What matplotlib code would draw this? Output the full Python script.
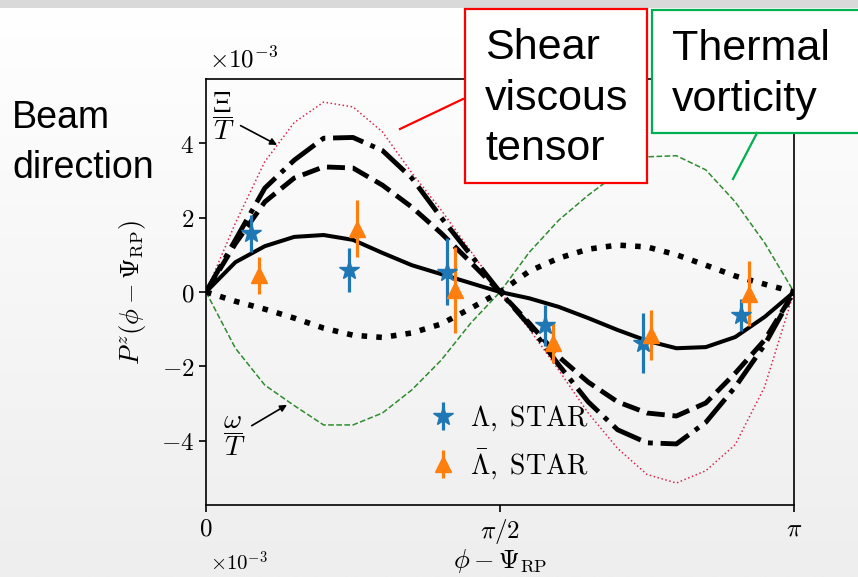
import numpy as np
import matplotlib
matplotlib.use("Agg")
import matplotlib.pyplot as plt
from matplotlib.patches import Rectangle
from matplotlib.colors import LinearSegmentedColormap

plt.rcParams["mathtext.fontset"] = "cm"

# ── data (P^z in units of 1e-3) ─────────────────────────────────────────
PHI = np.linspace(0, np.pi, 21)

shear_xi = [0, 1.85, 3.5, 4.55, 5.1, 4.97, 4.3, 3.2, 2.2, 1.1, 0,
            -1.0, -2.1, -3.25, -4.2, -4.9, -5.13, -4.8, -4.1, -2.55, 0]
dashdot = [0, 1.4, 2.79, 3.54, 4.13, 4.15, 3.8, 3.06, 2.0, 1.0, 0,
           -0.9, -1.96, -2.95, -3.7, -4.05, -4.08, -3.5, -2.55, -1.42, 0]
dashed = [0, 1.3, 2.42, 3.06, 3.36, 3.33, 2.87, 2.28, 1.58, 0.8, 0,
          -0.84, -1.74, -2.42, -2.95, -3.25, -3.33, -2.98, -2.18, -1.29, 0]
solid = [0, 0.8, 1.23, 1.48, 1.53, 1.4, 1.05, 0.72, 0.48, 0.24, 0,
         -0.17, -0.4, -0.7, -1.02, -1.31, -1.51, -1.48, -1.21, -0.67, 0]
dotted = [0, -0.25, -0.46, -0.7, -0.97, -1.16, -1.22, -1.1, -0.86, -0.44, 0,
          0.56, 0.91, 1.15, 1.26, 1.21, 1.0, 0.72, 0.43, 0.21, 0]
vorticity = [0, -1.51, -2.5, -3.05, -3.57, -3.57, -3.25, -2.63, -1.83, -0.84, 0,
             1.07, 1.93, 2.6, 3.19, 3.63, 3.66, 3.28, 2.42, 1.32, 0]

STAR_PHI = np.pi * np.array([1, 3, 5, 7, 9, 11]) / 12
lam = [1.58, 0.59, 0.54, -0.89, -1.37, -0.62]
lam_err = [0.5, 0.6, 0.9, 0.55, 0.8, 0.42]
alam = [0.45, 1.7, 0.05, -1.37, -1.15, -0.05]
alam_err = [0.5, 0.77, 1.15, 0.55, 0.67, 0.87]

W, H = 858, 577
fig = plt.figure(figsize=(W / 100, H / 100), dpi=100)

# background: light gradient like the slide
bg = fig.add_axes([0, 0, 1, 1], zorder=-10)
grad = LinearSegmentedColormap.from_list("bg", ["#ffffff", "#eeeeee"])
bg.imshow(np.linspace(0, 1, 256).reshape(-1, 1), aspect="auto", cmap=grad,
          extent=[0, 1, 0, 1], origin="upper")
bg.axis("off")

ax = fig.add_axes([206 / W, 1 - 505 / H, 588 / W, 426 / H])
ax.set_facecolor("none")

ax.plot(PHI, shear_xi, ":", color="#d6284e", lw=1.1)
ax.plot(PHI, vorticity, "--", color="#2e8b2e", lw=1.1)
ax.plot(PHI, dashdot, "-.", color="k", lw=3.5)
ax.plot(PHI, dashed, "--", color="k", lw=3.5)
ax.plot(PHI, solid, "-", color="k", lw=2.9)
ax.plot(PHI, dotted, ":", color="k", lw=4.0)

ax.errorbar(STAR_PHI - 0.02, lam, yerr=lam_err, fmt="*", color="#1f77b4",
            ms=15, elinewidth=2.3, label=r"$\Lambda,\ \mathrm{STAR}$", zorder=5)
ax.errorbar(STAR_PHI + 0.02, alam, yerr=alam_err, fmt="^", color="#ff7f0e",
            ms=12, elinewidth=2.3, label=r"$\bar{\Lambda},\ \mathrm{STAR}$", zorder=5)

ax.set_xlim(0, np.pi)
ax.set_ylim(-5.72, 5.72)
ax.set_xticks([0, np.pi / 2, np.pi])
ax.set_xticklabels([r"$0$", r"$\pi/2$", r"$\pi$"])
ax.set_yticks([-4, -2, 0, 2, 4])
ax.set_yticklabels([r"$%d$" % v for v in [-4, -2, 0, 2, 4]])
ax.tick_params(labelsize=18, length=5, width=1.2)
for s in ax.spines.values():
    s.set_linewidth(1.2)
ax.set_xlabel(r"$\phi-\Psi_{\rm RP}$", fontsize=19, labelpad=1)
ax.set_ylabel(r"$P^z(\phi-\Psi_{\rm RP})$", fontsize=19, labelpad=9)
ax.text(0.005, 1.015, r"$\times10^{-3}$", transform=ax.transAxes,
        fontsize=18, ha="left", va="bottom")

ax.legend(loc="lower left", bbox_to_anchor=(0.36, 0.03), frameon=False,
          fontsize=20, handlelength=1.0, handletextpad=0.5, labelspacing=0.5,
          borderaxespad=0)

ax.annotate(r"$\dfrac{\Xi}{T}$", xy=(0.38, 3.95), xytext=(0.09, 4.72),
            fontsize=20, ha="center", va="center",
            arrowprops=dict(arrowstyle="-|>", color="k", lw=1.2, mutation_scale=10,
                            shrinkA=3, shrinkB=0))
ax.annotate(r"$\dfrac{\omega}{T}$", xy=(0.433, -3.03), xytext=(0.15, -3.87),
            fontsize=20, ha="center", va="center",
            arrowprops=dict(arrowstyle="-|>", color="k", lw=1.2, mutation_scale=10,
                            shrinkA=3, shrinkB=0))

# ── slide overlay: callouts in pixel coordinates ───────────────────────
ov = fig.add_axes([0, 0, 1, 1], zorder=10)
ov.set_xlim(0, W)
ov.set_ylim(H, 0)
ov.axis("off")
ov.add_patch(Rectangle((0, 0), W, 8, color="#d9d9d9", lw=0))

ov.plot([400, 463], [129, 99], color="#ff0000", lw=1.6)
ov.add_patch(Rectangle((465, 9), 182, 174, facecolor="white",
                       edgecolor="#ff0000", lw=1.6))
ov.plot([733, 757], [179, 133], color="#00b050", lw=1.6)
ov.add_patch(Rectangle((652, 10), 230, 123, facecolor="white",
                       edgecolor="#00b050", lw=1.6))

sans = "Liberation Sans"
for txt, y in [("Shear", 59), ("viscous", 110), ("tensor", 160)]:
    ov.text(485, y, txt, fontsize=31, family=sans, va="baseline", ha="left")
for txt, y in [("Thermal", 60), ("vorticity", 111)]:
    ov.text(672, y, txt, fontsize=31, family=sans, va="baseline", ha="left")
for txt, y in [("Beam", 128), ("direction", 178)]:
    ov.text(12, y, txt, fontsize=27, family=sans, va="baseline", ha="left")

# offset label of the panel below, at the slide's lower edge
ov.text(210, 575, r"$\times10^{-3}$", fontsize=15, ha="left", va="bottom")

fig.savefig("out.png", dpi=100)
